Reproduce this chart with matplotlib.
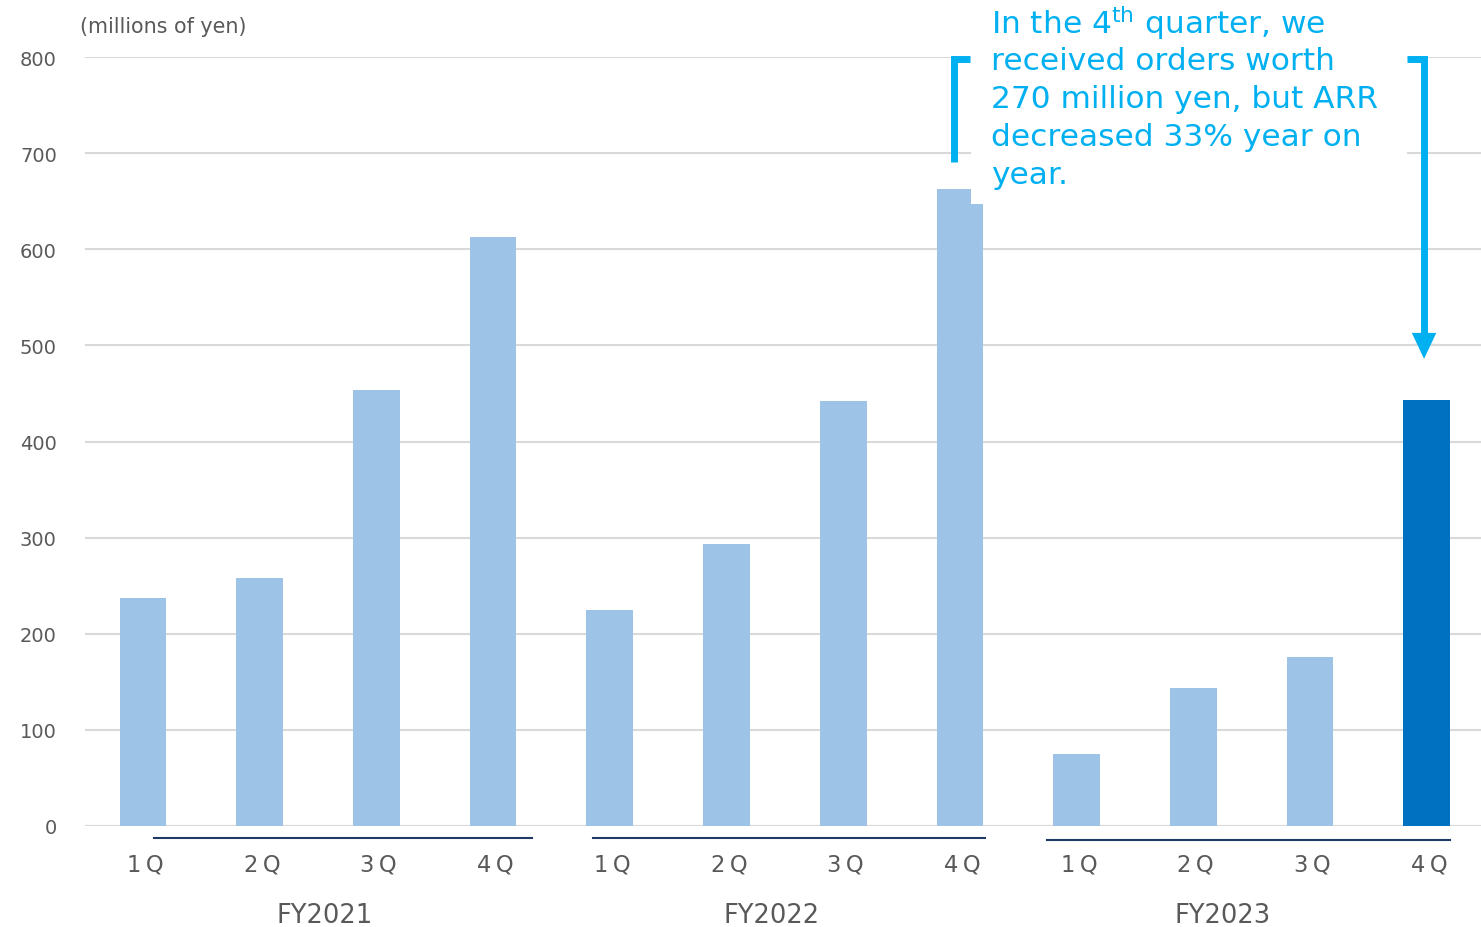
import numpy as np
import matplotlib.pyplot as plt
from matplotlib.patches import Rectangle, Polygon

# ARR by quarter (millions of yen)
years = ["FY2021", "FY2022", "FY2023"]
quarters = ["1Q", "2Q", "3Q", "4Q"]
arr_fy2021 = [237, 258, 454, 613]
arr_fy2022 = [225, 293, 442, 663]
arr_fy2023 = [75, 144, 176, 443]
note_lines = ["In the 4$^{\\mathrm{th}}$ quarter, we",
              "received orders worth",
              "270 million yen, but ARR",
              "decreased 33% year on",
              "year."]

LIGHT = "#9DC3E6"
DARK = "#0070C0"
CYAN = "#00B0F0"
GREY = "#595959"

plt.rcParams['font.family'] = ['DejaVu Sans']
plt.rcParams['mathtext.fontset'] = 'dejavusans'

values = arr_fy2021 + arr_fy2022 + arr_fy2023
x = np.arange(len(values))
colors = [LIGHT] * (len(values) - 1) + [DARK]

fig = plt.figure(figsize=(14.81, 9.28), dpi=100)
ax = fig.add_axes([84.6 / 1481, 101 / 928, 1400.5 / 1481, 769 / 928])

ax.bar(x, values, width=0.40, color=colors, zorder=2)

ax.set_xlim(-0.5, len(values) - 0.5)
ax.set_ylim(0, 800)
ax.set_yticks(np.arange(0, 801, 100))
ax.yaxis.grid(True, color="#D9D9D9", lw=1.5, zorder=0)
ax.set_axisbelow(True)
for s in ["top", "right", "left", "bottom"]:
    ax.spines[s].set_visible(False)
ax.axhline(0, color="#D9D9D9", lw=1.5, zorder=1)
ax.tick_params(axis="y", length=0, pad=20, labelsize=14, labelcolor=GREY)
ax.set_xticks([])

# quarter labels and fiscal-year group labels
qlabels = [q[0] + "\u2009" + q[1] for q in quarters] * len(years)
for xi, lab in zip(x, qlabels):
    ax.text(xi + 0.02, -40, lab, ha="center", va="center", fontsize=16.3,
            color=GREY, clip_on=False)

fy_pos = [1.56, 5.39, 9.254]
for pos, yr in zip(fy_pos, years):
    ax.text(pos, -93, yr, ha="center", va="center", fontsize=18.5,
            color=GREY, clip_on=False)

group_lines = [(0.094, 3.333, -12.5), (3.856, 7.215, -12.5), (7.746, 11.2, -14.6)]
for x0, x1, yy in group_lines:
    ax.plot([x0, x1], [yy, yy], color="#1F3864", lw=1.5, clip_on=False)

ax.text(-0.54, 832, "(millions of yen)", ha="left", va="center",
        fontsize=14.9, color=GREY, clip_on=False)

# white box behind the note (cuts grid lines and the top of the FY2022 4Q bar)
ax.add_patch(Rectangle((7.095, 647), 10.831 - 7.095, 250, facecolor="white",
                       edgecolor="none", zorder=3, clip_on=False))

# note text
line_y = [836, 796, 757, 717, 678]
for yy, line in zip(line_y, note_lines):
    ax.text(7.266, yy, line, ha="left", va="center", fontsize=22.5,
            color=CYAN, zorder=5, clip_on=False)

# left bracket
ax.plot([6.953, 6.953, 7.09], [691, 798, 798], color=CYAN, lw=5,
        solid_capstyle="butt", solid_joinstyle="miter", zorder=5, clip_on=False)
# right bracket with arrow
ax.plot([10.83, 10.977, 10.977], [798, 798, 510], color=CYAN, lw=5,
        solid_capstyle="butt", solid_joinstyle="miter", zorder=5, clip_on=False)
ax.add_patch(Polygon([(10.977 - 0.105, 513), (10.977 + 0.105, 513), (10.977, 486)],
                     closed=True, facecolor=CYAN, edgecolor="none", zorder=5,
                     clip_on=False))

fig.savefig("out.png", dpi=100)
